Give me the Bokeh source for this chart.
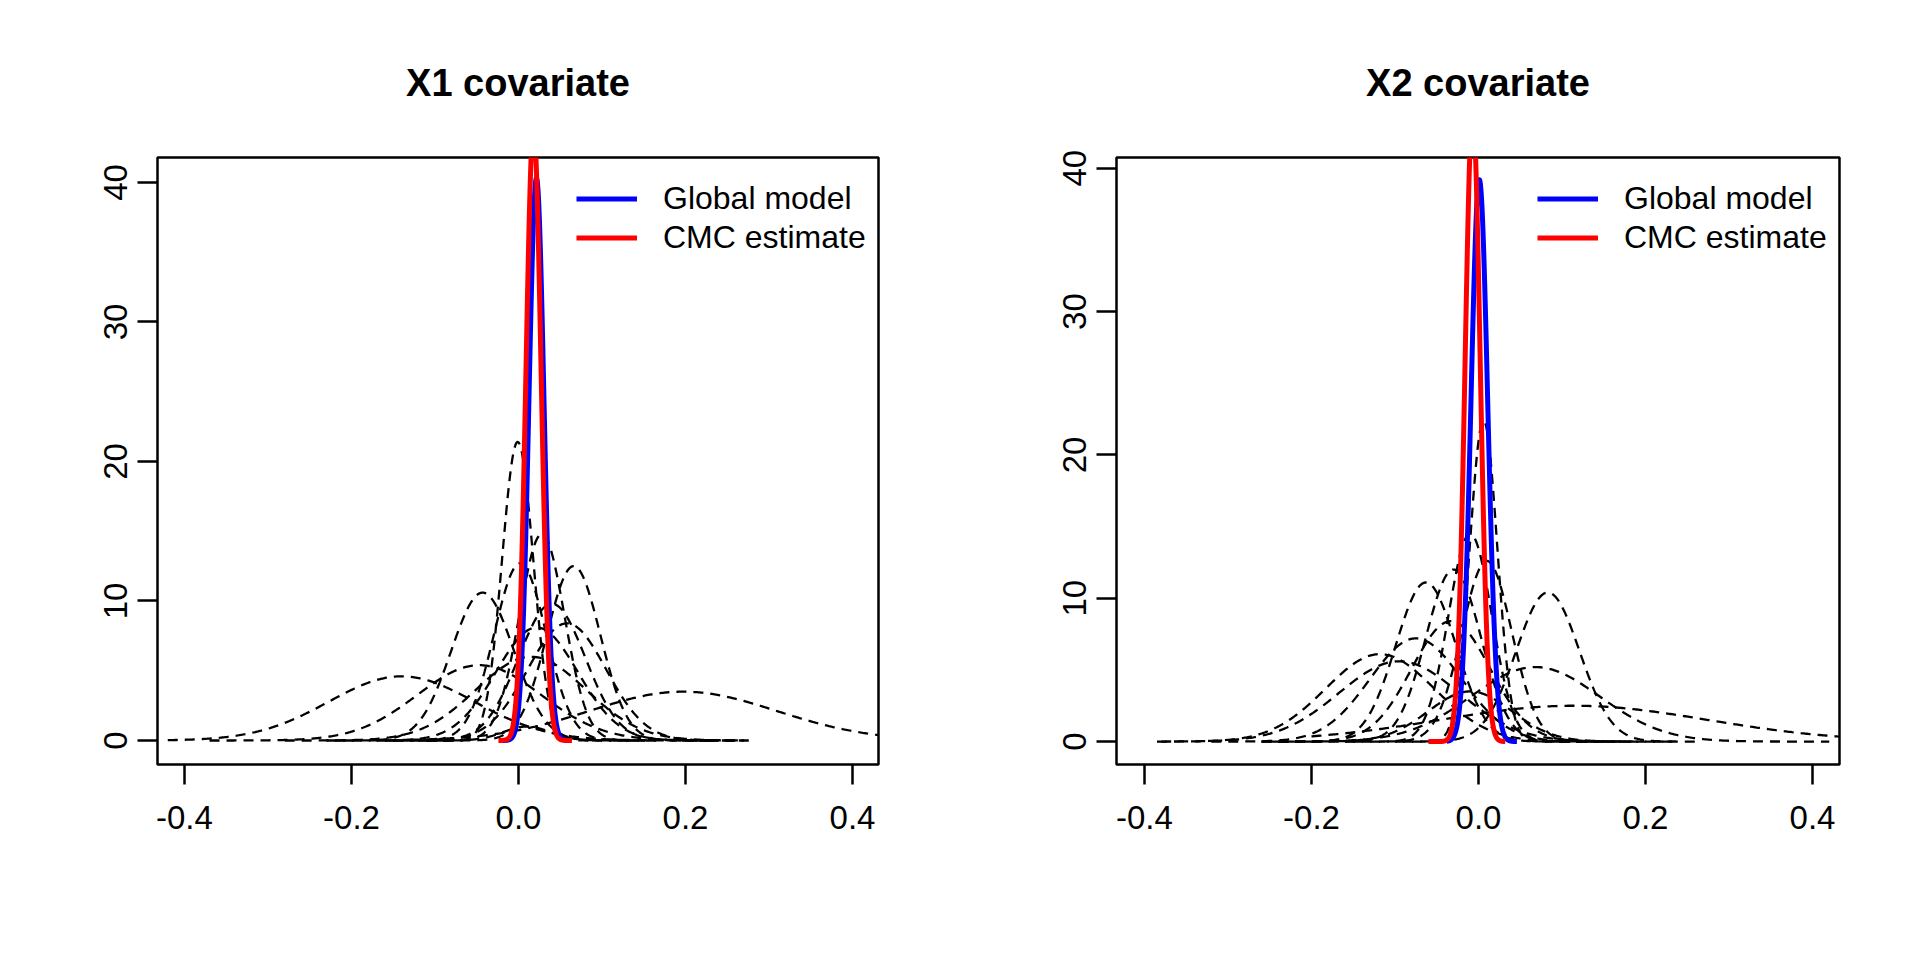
import numpy as np
from bokeh.plotting import figure
from bokeh.models import Range1d, FixedTicker, PrintfTickFormatter, Legend, LegendItem
from bokeh.layouts import row
from bokeh.embed import file_html
from bokeh.resources import INLINE

# ---------------- data ----------------
titles = ["X1 covariate", "X2 covariate"]
x_ticks = [-0.4, -0.2, 0.0, 0.2, 0.4]
y_ticks = [0, 10, 20, 30, 40]
legend_labels = ["Global model", "CMC estimate"]

# subset posterior densities (dashed), X1 panel: centre, peak height, spread, drawn extent
x1_sub_mean = [-0.140, 0.197, -0.043, -0.001, -0.047, 0.028, 0.066, 0.002, 0.022, 0.058, 0.010, 0.015, 0.040]
x1_sub_peak = [4.6, 3.5, 10.6, 21.4, 5.4, 14.8, 12.5, 12.7, 8.1, 8.4, 1.0, 6.0, 9.8]
x1_sub_sd = [0.087, 0.112, 0.0376, 0.0187, 0.074, 0.027, 0.032, 0.031, 0.049, 0.047, 0.028, 0.066, 0.040]
x1_sub_lo = [-0.420, -0.130, -0.230, -0.110, -0.370, -0.110, -0.090, -0.160, -0.220, -0.170, -0.120, -0.280, -0.150]
x1_sub_hi = [0.277, 0.520, 0.140, 0.100, 0.240, 0.170, 0.230, 0.160, 0.260, 0.270, 0.140, 0.270, 0.230]

# X2 panel
x2_sub_mean = [0.006, -0.010, 0.010, -0.030, -0.063, 0.083, -0.075, -0.118, -0.033, 0.068, 0.114, -0.095, -0.010]
x2_sub_peak = [22.4, 14.5, 12.6, 12.0, 11.1, 10.4, 7.2, 6.1, 8.4, 5.2, 2.5, 5.6, 3.5]
x2_sub_sd = [0.0165, 0.026, 0.030, 0.033, 0.036, 0.038, 0.055, 0.065, 0.047, 0.077, 0.160, 0.072, 0.050]
x2_sub_lo = [-0.100, -0.160, -0.150, -0.200, -0.240, -0.090, -0.320, -0.385, -0.260, -0.260, -0.200, -0.380, -0.250]
x2_sub_hi = [0.110, 0.140, 0.170, 0.140, 0.110, 0.260, 0.170, 0.150, 0.190, 0.420, 0.500, 0.240, 0.230]

# Global model (blue) and CMC estimate (red): centre, peak, spread, extent
x1_global = dict(mean=0.0215, peak=40.3, sd=0.0090, lo=-0.022, hi=0.062)
x1_cmc = dict(mean=0.018, peak=44.0, sd=0.0090, lo=-0.024, hi=0.064)
x2_global = dict(mean=0.001, peak=39.2, sd=0.0100, lo=-0.038, hi=0.046)
x2_cmc = dict(mean=-0.007, peak=44.0, sd=0.0090, lo=-0.060, hi=0.032)

# axis limits
x1_xlim = (-0.4323, 0.4311)
x1_ylim = (-1.72, 41.79)
x2_xlim = (-0.4335, 0.4323)
x2_ylim = (-1.60, 40.75)

FONT = "Liberation Sans"


def curve(mean, peak, sd, lo, hi, n=400):
    xs = np.linspace(lo, hi, n)
    ys = peak * np.exp(-0.5 * ((xs - mean) / sd) ** 2)
    return xs, ys


def panel(title, means, peaks, sds, los, his, glob, cmc, xlim, ylim,
          bl, br, legend_x):
    p = figure(width=960, height=952, output_backend="svg", toolbar_location=None,
               x_range=Range1d(*xlim), y_range=Range1d(*ylim), title=title,
               min_border_left=bl, min_border_right=br,
               min_border_top=157, min_border_bottom=188)
    p.background_fill_color = "white"
    p.border_fill_color = "white"
    p.xgrid.visible = False
    p.ygrid.visible = False
    p.outline_line_color = "black"
    p.outline_line_width = 2.5
    p.outline_line_alpha = 1.0

    p.title.text_font = FONT
    p.title.text_font_size = "38px"
    p.title.text_font_style = "bold"
    p.title.text_color = "black"
    p.title.align = "center"
    p.title.standoff = 107

    p.xaxis.ticker = FixedTicker(ticks=x_ticks)
    p.xaxis.formatter = PrintfTickFormatter(format="%.1f")
    p.yaxis.ticker = FixedTicker(ticks=y_ticks)
    for ax in (p.xaxis, p.yaxis):
        ax.axis_line_color = None
        ax.major_tick_line_color = "black"
        ax.major_tick_line_width = 2.5
        ax.major_tick_out = 20
        ax.major_tick_in = 0
        ax.minor_tick_line_color = None
        ax.major_label_text_font = FONT
        ax.major_label_text_font_size = "33px"
        ax.major_label_text_color = "black"
    p.xaxis.major_label_standoff = 21
    p.yaxis.major_label_standoff = 10
    p.yaxis.major_label_orientation = "vertical"

    xs_list, ys_list = [], []
    for m, pk, s, lo, hi in zip(means, peaks, sds, los, his):
        xs, ys = curve(m, pk, s, lo, hi)
        xs_list.append(xs)
        ys_list.append(ys)
    p.multi_line(xs_list, ys_list, line_color="black", line_width=2.3,
                 line_dash="10 7")

    gx, gy = curve(glob["mean"], glob["peak"], glob["sd"], glob["lo"], glob["hi"])
    rb = p.line(gx, gy, line_color="#0000FF", line_width=5, line_join="round")
    cx, cy = curve(cmc["mean"], cmc["peak"], cmc["sd"], cmc["lo"], cmc["hi"])
    rr = p.line(cx, cy, line_color="#FF0000", line_width=5, line_join="round")

    leg = Legend(items=[LegendItem(label=legend_labels[0], renderers=[rb]),
                        LegendItem(label=legend_labels[1], renderers=[rr])],
                 location=(legend_x, 507.5), orientation="vertical",
                 glyph_width=61, glyph_height=39, label_height=39,
                 label_standoff=26, spacing=0, padding=0, margin=0,
                 border_line_color=None, background_fill_alpha=0,
                 label_text_font=FONT, label_text_font_size="32px",
                 label_text_color="black")
    p.add_layout(leg)
    return p


p1 = panel(titles[0], x1_sub_mean, x1_sub_peak, x1_sub_sd, x1_sub_lo, x1_sub_hi,
           x1_global, x1_cmc, x1_xlim, x1_ylim, 157, 82, 419)
p2 = panel(titles[1], x2_sub_mean, x2_sub_peak, x2_sub_sd, x2_sub_lo, x2_sub_hi,
           x2_global, x2_cmc, x2_xlim, x2_ylim, 156, 81, 421)

layout = row(p1, p2)
open("out.html", "w").write(file_html(layout, INLINE))
